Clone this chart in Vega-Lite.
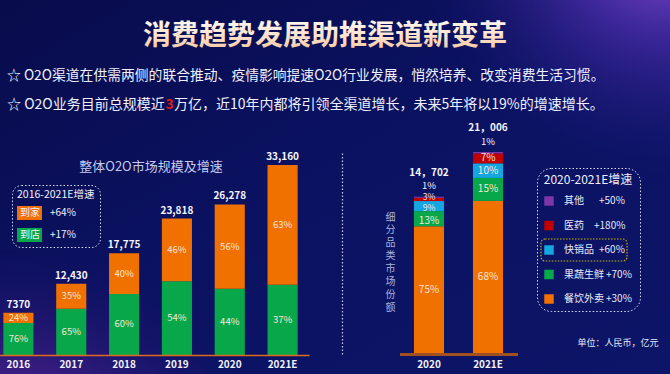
{
  "$schema": "https://vega.github.io/schema/vega-lite/v6.json",
  "width": 670,
  "height": 374,
  "padding": 0,
  "autosize": {"type": "none"},
  "background": "#0b1160",
  "config": {
    "font": "Noto Sans CJK SC",
    "view": {"stroke": null}
  },
  "datasets": {
    "o2o": [
      {"year": "2016", "ch": "到店", "pct": "76%", "v": 5601, "rank": 1},
      {"year": "2016", "ch": "到家", "pct": "24%", "v": 1769, "rank": 2},
      {"year": "2017", "ch": "到店", "pct": "65%", "v": 8080, "rank": 1},
      {"year": "2017", "ch": "到家", "pct": "35%", "v": 4350, "rank": 2},
      {"year": "2018", "ch": "到店", "pct": "60%", "v": 10665, "rank": 1},
      {"year": "2018", "ch": "到家", "pct": "40%", "v": 7110, "rank": 2},
      {"year": "2019", "ch": "到店", "pct": "54%", "v": 12862, "rank": 1},
      {"year": "2019", "ch": "到家", "pct": "46%", "v": 10956, "rank": 2},
      {"year": "2020", "ch": "到店", "pct": "44%", "v": 11562, "rank": 1},
      {"year": "2020", "ch": "到家", "pct": "56%", "v": 14716, "rank": 2},
      {"year": "2021E", "ch": "到店", "pct": "37%", "v": 12269, "rank": 1},
      {"year": "2021E", "ch": "到家", "pct": "63%", "v": 20891, "rank": 2}
    ],
    "o2oTotal": [
      {"year": "2016", "total": 7370, "label": "7370"},
      {"year": "2017", "total": 12430, "label": "12,430"},
      {"year": "2018", "total": 17775, "label": "17,775"},
      {"year": "2019", "total": 23818, "label": "23,818"},
      {"year": "2020", "total": 26278, "label": "26,278"},
      {"year": "2021E", "total": 33160, "label": "33,160"}
    ],
    "cat": [
      {"year": "2020", "cat": "餐饮外卖", "pct": "75%", "v": 11027, "rank": 1},
      {"year": "2020", "cat": "果蔬生鲜", "pct": "13%", "v": 1911, "rank": 2},
      {"year": "2020", "cat": "快销品", "pct": "9%", "v": 1323, "rank": 3},
      {"year": "2020", "cat": "医药", "pct": "3%", "v": 441, "rank": 4},
      {"year": "2020", "cat": "其他", "pct": "1%", "v": 147, "rank": 5},
      {"year": "2021E", "cat": "餐饮外卖", "pct": "68%", "v": 14284, "rank": 1},
      {"year": "2021E", "cat": "果蔬生鲜", "pct": "15%", "v": 3151, "rank": 2},
      {"year": "2021E", "cat": "快销品", "pct": "10%", "v": 2101, "rank": 3},
      {"year": "2021E", "cat": "医药", "pct": "7%", "v": 1470, "rank": 4},
      {"year": "2021E", "cat": "其他", "pct": "1%", "v": 210, "rank": 5}
    ],
    "catTotal": [
      {"year": "2020", "total": 14702, "label": "14，702"},
      {"year": "2021E", "total": 21006, "label": "21，006"}
    ]
  },
  "layer": [
    {
      "data": {"values": [{"k": "bg"}]},
      "mark": {
        "type": "rect", "x": 0, "x2": 670, "y": 0, "y2": 374,
        "fill": {"gradient": "linear", "x1": 0, "y1": 0, "x2": 1, "y2": 1,
          "stops": [{"offset": 0, "color": "#080c4c"}, {"offset": 0.5, "color": "#0b1262"}, {"offset": 1, "color": "#0d1568"}]}
      },
      "encoding": {}
    },
    {
      "data": {"values": [{"k": "glow-bl"}]},
      "mark": {
        "type": "rect", "x": 0, "x2": 670, "y": 0, "y2": 374,
        "fill": {"gradient": "radial", "x1": 0.0, "y1": 1.0, "x2": 0.0, "y2": 1.0, "r1": 0, "r2": 0.42,
          "stops": [{"offset": 0, "color": "rgba(220,80,205,0.85)"}, {"offset": 0.4, "color": "rgba(145,50,185,0.55)"}, {"offset": 1, "color": "rgba(40,20,120,0)"}]}
      },
      "encoding": {}
    },
    {
      "data": {"values": [{"k": "glow-tr"}]},
      "mark": {
        "type": "rect", "x": 0, "x2": 670, "y": 0, "y2": 374,
        "fill": {"gradient": "radial", "x1": 1.0, "y1": 0.1, "x2": 1.0, "y2": 0.1, "r1": 0, "r2": 0.38,
          "stops": [{"offset": 0, "color": "rgba(195,105,245,0.9)"}, {"offset": 0.45, "color": "rgba(110,60,210,0.5)"}, {"offset": 1, "color": "rgba(40,30,140,0)"}]}
      },
      "encoding": {}
    },
    {
      "encoding": {
        "x": {
          "field": "year", "type": "nominal",
          "scale": {"range": [-8, 309], "paddingInner": 0.43, "paddingOuter": 0.215},
          "axis": {
            "orient": "bottom", "offset": -19, "title": null, "labelAngle": 0, "zindex": 1,
            "ticks": false, "labelPadding": 4, "labelFontSize": 10, "labelFontWeight": "bold",
            "labelColor": "#f0f0f8", "domainColor": "#e06a1a", "domainWidth": 1.5, "grid": false
          }
        }
      },
      "layer": [
        {
          "data": {"name": "o2o"},
          "transform": [{"stack": "v", "groupby": ["year"], "sort": [{"field": "rank", "order": "ascending"}], "as": ["v0", "v1"]}],
          "mark": {"type": "bar"},
          "encoding": {
            "y": {"field": "v0", "type": "quantitative", "scale": {"domain": [0, 33160], "range": [355, 165], "nice": false}, "axis": null},
            "y2": {"field": "v1"},
            "color": {
              "field": "ch", "type": "nominal",
              "scale": {"domain": ["到家", "到店"], "range": ["#f07000", "#08a84a"]},
              "legend": {
                "title": "2016-2021E增速", "orient": "none", "legendX": 12, "legendY": 185, "direction": "vertical",
                "titleFontSize": 10.5, "titleColor": "#f2f2fa", "titleFontWeight": "normal", "titlePadding": 0,
                "labelFontSize": 10, "labelColor": "#f2f2fa",
                "labelExpr": "datum.label == '到家' ? '到家\u2002\u2002+64%' : '到店\u2002\u2002+17%'",
                "symbolType": "M-1,-0.56L1,-0.56L1,0.56L-1,0.56Z", "symbolSize": 625,
                "symbolStrokeWidth": 0, "symbolOpacity": 1, "labelOffset": -22, "rowPadding": 2,
                "padding": 5, "strokeColor": "#d8dcf0", "cornerRadius": 9,
                "encode": {"legend": {"update": {"strokeDash": {"value": [1.5, 2]}}}}
              }
            }
          }
        },
        {
          "data": {"name": "o2o"},
          "transform": [
            {"stack": "v", "groupby": ["year"], "sort": [{"field": "rank", "order": "ascending"}], "as": ["v0", "v1"]},
            {"calculate": "(datum.v0 + datum.v1) / 2", "as": "mid"}
          ],
          "mark": {"type": "text", "fontSize": 9.5, "color": "#f7e6d8", "baseline": "middle"},
          "encoding": {
            "y": {"field": "mid", "type": "quantitative", "scale": {"domain": [0, 33160], "range": [355, 165], "nice": false}, "axis": null},
            "text": {"field": "pct"}
          }
        },
        {
          "data": {"name": "o2oTotal"},
          "mark": {"type": "text", "fontSize": 10, "fontWeight": "bold", "color": "#f4f4fc", "baseline": "middle", "dy": -8},
          "encoding": {
            "y": {"field": "total", "type": "quantitative", "scale": {"domain": [0, 33160], "range": [355, 165], "nice": false}, "axis": null},
            "text": {"field": "label"}
          }
        }
      ]
    },
    {
      "encoding": {
        "x": {
          "field": "year", "type": "nominal",
          "scale": {"range": [399.5, 517.5], "paddingInner": 0.49, "paddingOuter": 0.245},
          "axis": {
            "orient": "bottom", "offset": -20, "title": null, "labelAngle": 0, "zindex": 1,
            "ticks": false, "labelPadding": 5, "labelFontSize": 10, "labelFontWeight": "bold",
            "labelColor": "#f0f0f8", "domainColor": "#a0501e", "domainWidth": 3, "grid": false
          }
        }
      },
      "layer": [
        {
          "data": {"name": "cat"},
          "transform": [{"stack": "v", "groupby": ["year"], "sort": [{"field": "rank", "order": "ascending"}], "as": ["v0", "v1"]}],
          "mark": {"type": "bar"},
          "encoding": {
            "y": {
              "field": "v0", "type": "quantitative",
              "scale": {"type": "pow", "exponent": 0.7, "domain": [0, 21216], "range": [354, 152], "nice": false},
              "axis": {
                "orient": "left", "offset": -342, "labels": false, "ticks": false, "grid": false, "zindex": 1,
                "domainColor": "#c8cce8", "domainDash": [1.5, 2], "domainWidth": 1.2,
                "title": ["细", "分", "品", "类", "市", "场", "份", "额"],
                "titleAngle": 0, "titleX": 48, "titleY": 212, "titleAlign": "center", "titleBaseline": "top",
                "titleFontSize": 10, "titleLineHeight": 12.9, "titleFontWeight": "normal", "titleColor": "#aab2dc"
              }
            },
            "y2": {"field": "v1"},
            "color": {
              "field": "cat", "type": "nominal",
              "scale": {"domain": ["其他", "医药", "快销品", "果蔬生鲜", "餐饮外卖"], "range": ["#7d35a8", "#c00000", "#14a6e0", "#08a84a", "#f07000"]},
              "legend": {
                "title": "2020-2021E增速", "orient": "none", "legendX": 537, "legendY": 168, "direction": "vertical",
                "titleFontSize": 12, "titleColor": "#eeeef8", "titleFontWeight": "normal", "titleAnchor": "middle", "titlePadding": 9,
                "labelFontSize": 10, "labelColor": "#e8e8f6",
                "labelExpr": "datum.label == '其他' ? '其他\u2002\u2002\u2002+50%' : datum.label == '医药' ? '医药\u2002\u2002+180%' : datum.label == '快销品' ? '快销品\u2002+60%' : datum.label == '果蔬生鲜' ? '果蔬生鲜\u2009+70%' : '餐饮外卖\u2009+30%'",
                "symbolType": "square", "symbolSize": 90, "symbolStrokeWidth": 0, "symbolOpacity": 1,
                "labelOffset": 10, "rowPadding": 14.5, "padding": 7,
                "strokeColor": "#d8dcf0", "cornerRadius": 14,
                "encode": {"legend": {"update": {"strokeDash": {"value": [1.5, 2]}}}}
              }
            }
          }
        },
        {
          "data": {"name": "cat"},
          "transform": [
            {"stack": "v", "groupby": ["year"], "sort": [{"field": "rank", "order": "ascending"}], "as": ["v0", "v1"]},
            {"filter": "datum.rank < 5 && !(datum.year == '2020' && datum.rank >= 2)"},
            {"calculate": "pow((pow(datum.v0, 0.7) + pow(datum.v1, 0.7)) / 2, 1 / 0.7)", "as": "mid"}
          ],
          "mark": {"type": "text", "fontSize": 10, "color": "#f7e6d8", "baseline": "middle"},
          "encoding": {
            "y": {"field": "mid", "type": "quantitative", "scale": {"type": "pow", "exponent": 0.7, "domain": [0, 21216], "range": [354, 152], "nice": false}},
            "text": {"field": "pct"}
          }
        },
        {
          "data": {"name": "cat"},
          "transform": [
            {"stack": "v", "groupby": ["year"], "sort": [{"field": "rank", "order": "ascending"}], "as": ["v0", "v1"]},
            {"filter": "datum.year == '2020' && datum.rank == 2"},
            {"calculate": "pow((pow(datum.v0, 0.7) + pow(datum.v1, 0.7)) / 2, 1 / 0.7)", "as": "mid"}
          ],
          "mark": {"type": "text", "fontSize": 10, "color": "#f7e6d8", "baseline": "middle", "dy": 2.5},
          "encoding": {
            "y": {"field": "mid", "type": "quantitative", "scale": {"type": "pow", "exponent": 0.7, "domain": [0, 21216], "range": [354, 152], "nice": false}},
            "text": {"field": "pct"}
          }
        },
        {
          "data": {"name": "cat"},
          "transform": [
            {"stack": "v", "groupby": ["year"], "sort": [{"field": "rank", "order": "ascending"}], "as": ["v0", "v1"]},
            {"filter": "datum.year == '2020' && datum.rank == 3"},
            {"calculate": "pow((pow(datum.v0, 0.7) + pow(datum.v1, 0.7)) / 2, 1 / 0.7)", "as": "mid"}
          ],
          "mark": {"type": "text", "fontSize": 8.5, "color": "#f7e6d8", "baseline": "middle", "dy": 1.5},
          "encoding": {
            "y": {"field": "mid", "type": "quantitative", "scale": {"type": "pow", "exponent": 0.7, "domain": [0, 21216], "range": [354, 152], "nice": false}},
            "text": {"field": "pct"}
          }
        },
        {
          "data": {"name": "cat"},
          "transform": [
            {"stack": "v", "groupby": ["year"], "sort": [{"field": "rank", "order": "ascending"}], "as": ["v0", "v1"]},
            {"filter": "datum.year == '2020' && datum.rank == 4"},
            {"calculate": "pow((pow(datum.v0, 0.7) + pow(datum.v1, 0.7)) / 2, 1 / 0.7)", "as": "mid"}
          ],
          "mark": {"type": "text", "fontSize": 8.5, "color": "#f7e6d8", "baseline": "middle", "dy": -2.5},
          "encoding": {
            "y": {"field": "mid", "type": "quantitative", "scale": {"type": "pow", "exponent": 0.7, "domain": [0, 21216], "range": [354, 152], "nice": false}},
            "text": {"field": "pct"}
          }
        },
        {
          "data": {"name": "cat"},
          "transform": [
            {"stack": "v", "groupby": ["year"], "sort": [{"field": "rank", "order": "ascending"}], "as": ["v0", "v1"]},
            {"filter": "datum.rank == 5"}
          ],
          "mark": {"type": "text", "fontSize": 9.5, "color": "#f0f0f8", "baseline": "middle", "dy": -10.5},
          "encoding": {
            "y": {"field": "v1", "type": "quantitative", "scale": {"type": "pow", "exponent": 0.7, "domain": [0, 21216], "range": [354, 152], "nice": false}},
            "text": {"field": "pct"}
          }
        },
        {
          "data": {"name": "catTotal"},
          "mark": {"type": "text", "fontSize": 10, "fontWeight": "bold", "color": "#f4f4fc", "baseline": "middle", "dy": -25},
          "encoding": {
            "y": {"field": "total", "type": "quantitative", "scale": {"type": "pow", "exponent": 0.7, "domain": [0, 21216], "range": [354, 152], "nice": false}},
            "text": {"field": "label"}
          }
        }
      ]
    },
    {
      "data": {"values": [{"t": "消费趋势发展助推渠道新变革"}]},
      "mark": {
        "type": "text", "x": 325, "y": 37, "align": "center", "baseline": "middle", "fontSize": 28, "fontWeight": "bold",
        "fill": {"gradient": "linear", "x1": 0, "y1": 0, "x2": 0, "y2": 1, "stops": [{"offset": 0, "color": "#ffffff"}, {"offset": 0.5, "color": "#fde6d4"}, {"offset": 1, "color": "#f8c49a"}]}
      },
      "encoding": {"text": {"field": "t"}}
    },
    {
      "data": {"values": [{"t": "☆ O2O渠道在供需两侧的联合推动、疫情影响提速O2O行业发展，悄然培养、改变消费生活习惯。"}]},
      "mark": {"type": "text", "x": 7, "y": 76, "align": "left", "baseline": "middle", "fontSize": 13.8, "color": "#eef0ff"},
      "encoding": {"text": {"field": "t"}}
    },
    {
      "data": {"values": [{"t": "☆ O2O业务目前总规模近"}]},
      "mark": {"type": "text", "x": 7, "y": 105, "align": "left", "baseline": "middle", "fontSize": 14, "color": "#eef0ff"},
      "encoding": {"text": {"field": "t"}}
    },
    {
      "data": {"values": [{"t": "3"}]},
      "mark": {"type": "text", "x": 165.5, "y": 105, "align": "left", "baseline": "middle", "fontSize": 14, "fontWeight": "bold", "color": "#e01a1a"},
      "encoding": {"text": {"field": "t"}}
    },
    {
      "data": {"values": [{"t": "万亿，近10年内都将引领全渠道增长，未来5年将以19%的增速增长。"}]},
      "mark": {"type": "text", "x": 174, "y": 105, "align": "left", "baseline": "middle", "fontSize": 14, "color": "#eef0ff"},
      "encoding": {"text": {"field": "t"}}
    },
    {
      "data": {"values": [{"t": "整体O2O市场规模及增速"}]},
      "mark": {"type": "text", "x": 151, "y": 167, "align": "center", "baseline": "middle", "fontSize": 13, "color": "#c5cbef"},
      "encoding": {"text": {"field": "t"}}
    },
    {
      "data": {"values": [{"t": "单位：人民币，亿元"}]},
      "mark": {"type": "text", "x": 618, "y": 343, "align": "center", "baseline": "middle", "fontSize": 9, "color": "#e8e8f8"},
      "encoding": {"text": {"field": "t"}}
    },
    {
      "data": {"values": [{"t": "highlight"}]},
      "mark": {"type": "rect", "x": 541, "x2": 627, "y": 239, "y2": 261, "fill": null, "stroke": "#c9b300", "strokeWidth": 1.2, "strokeDash": [1.5, 1.5], "cornerRadius": 4},
      "encoding": {}
    }
  ],
  "resolve": {
    "scale": {"x": "independent", "y": "independent", "color": "independent"},
    "axis": {"x": "independent", "y": "independent"},
    "legend": {"color": "independent"}
  }
}
